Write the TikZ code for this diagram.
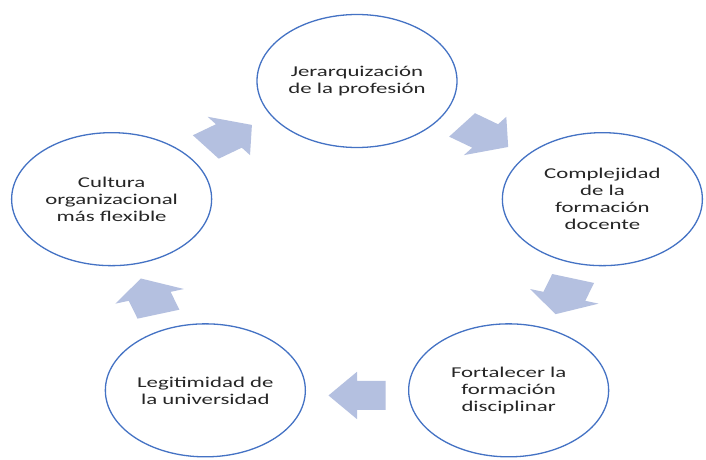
\documentclass[tikz,border=0pt]{standalone}
\usepackage{fontspec}
\setmainfont{Carlito}[FakeStretch=1.52]
\usetikzlibrary{shapes.geometric}
\definecolor{ringblue}{HTML}{4472C4}
\definecolor{arrowfillc}{HTML}{B4C0E0}
\definecolor{txt}{HTML}{262626}
\tikzset{
  cyclenode/.style={ellipse, draw=ringblue, line width=1.3pt, fill=white,
    minimum width=200pt, minimum height=133pt, inner sep=0pt, align=center,
    text=txt, font=\fontsize{15pt}{17pt}\selectfont},
  blockarrow/.style={fill=arrowfillc, draw=none}
}
\begin{document}
\begin{tikzpicture}[x=1pt,y=1pt]
\useasboundingbox (0,0) rectangle (706,459);
\fill[white] (0,0) rectangle (706,459);
\coordinate (C) at (357,207);
% block arrows (drawn in circle space, then squashed vertically)
\begin{scope}[shift={(C)}, yscale=0.658]
  \foreach \a in {54,-18,-90,-162,126}{
    \fill[blockarrow, rotate=\a] (196,28.5) -- (240,28.5) -- (240,0)
      -- (254,0) -- (218,-28.5) -- (182,0) -- (196,0) -- cycle;
  }
\end{scope}
\node[cyclenode] (jer) at ([shift={(C)}]90:258 and 171) {Jerarquización\\de la profesión};
\node[cyclenode] (com) at ([shift={(C)}]18:258 and 171) {Complejidad\\de la\\formación\\docente};
\node[cyclenode] (for) at ([shift={(C)}]-54:258 and 171) {Fortalecer la\\formación\\disciplinar};
\node[cyclenode] (leg) at ([shift={(C)}]-126:258 and 171) {Legitimidad de\\la universidad};
\node[cyclenode] (cul) at ([shift={(C)}]162:258 and 171) {Cultura\\organizacional\\más flexible};
\end{tikzpicture}
\end{document}
